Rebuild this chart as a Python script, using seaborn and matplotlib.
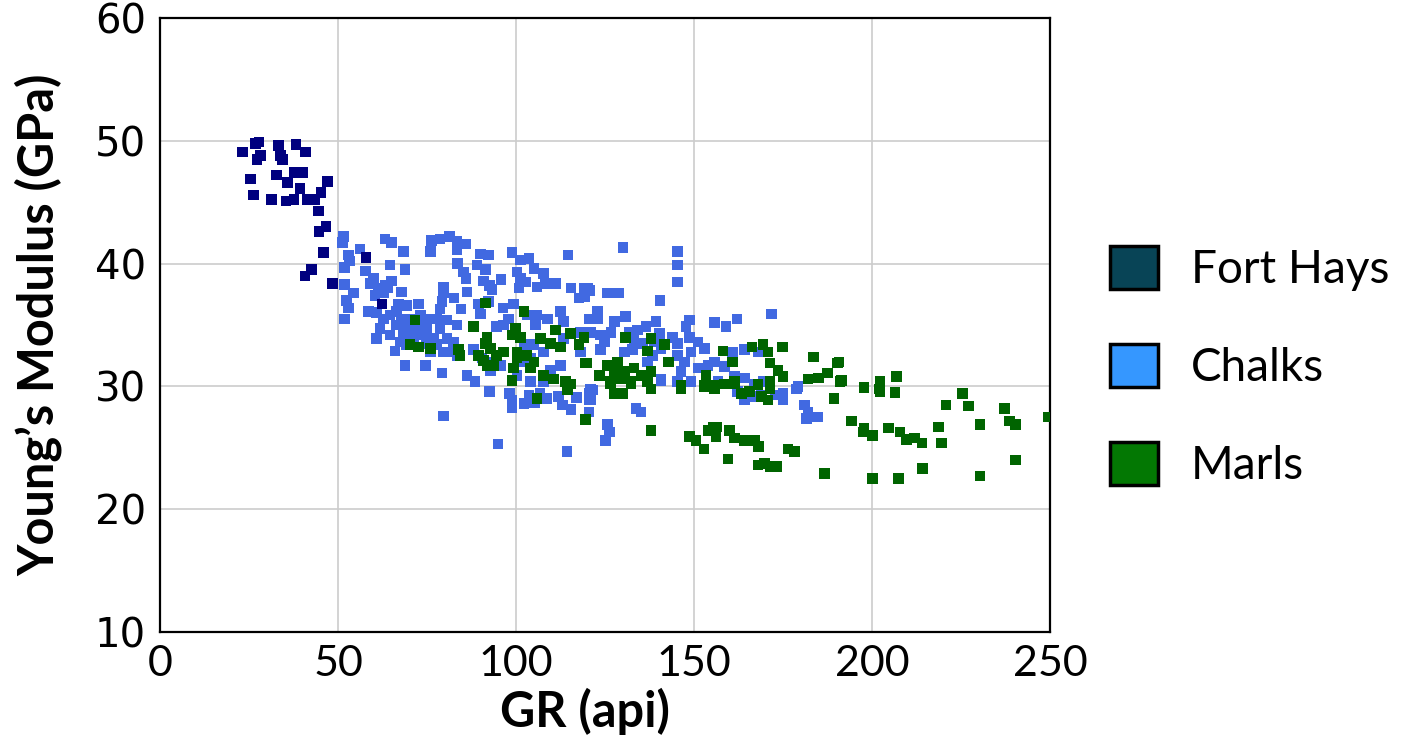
import matplotlib.pyplot as plt
import pandas as pd
import seaborn as sns
from matplotlib.patches import Patch

# Fort Hays limestone samples
fort_hays_gr = [27.8, 26.9, 23.2, 33.2, 38.2, 40.8, 28.2, 27.3, 33.9, 34.4,
                25.4, 32.7, 37.6, 40.2, 35.8, 47.1, 39.3, 45.2, 26.3, 31.3,
                35.4, 37.6, 41.4, 43.5, 44.5, 46.6, 44.7, 45.9, 42.6, 40.7,
                48.5, 57.9, 62.3]
fort_hays_ym = [49.9, 49.8, 49.1, 49.6, 49.7, 49.1, 48.8, 48.5, 48.8, 48.5,
                46.9, 47.2, 47.4, 47.4, 46.6, 46.7, 46.1, 45.8, 45.6, 45.2,
                45.1, 45.2, 45.2, 45.2, 44.3, 43.0, 42.6, 40.9, 39.5, 39.0,
                38.4, 40.5, 36.7]

# Chalk samples
chalk_gr = [
    51.5, 51.3, 63.2, 65.1, 68.4, 76.3, 78.7, 81.3, 83.4, 86.0,
    83.4, 75.9, 56.2, 52.9, 53.3, 51.9, 57.8, 64.6, 68.8, 83.6,
    90.0, 92.3, 98.9, 101.2, 103.6, 114.6, 89.0, 91.4, 85.3, 86.0,
    90.9, 92.6, 93.2, 95.8, 100.3, 101.2, 102.6, 100.8, 105.0, 107.8,
    105.9, 108.3, 111.1, 115.5, 119.1, 117.7, 59.9, 59.0, 63.2, 65.1,
    51.9, 54.3, 52.4, 52.9, 51.9, 61.3, 60.4, 62.7, 64.1, 67.9,
    58.5, 60.8, 67.0, 69.3, 72.6, 79.6, 79.6, 79.2, 78.7, 82.6,
    86.2, 84.5, 89.5, 90.0, 92.3, 96.3, 99.3, 97.9, 94.5, 96.5,
    103.1, 105.9, 105.4, 108.9, 112.5, 113.4,
    64.6, 67.9, 70.7, 74.9, 77.7, 80.6, 83.4, 61.8, 66.5, 69.3,
    72.1, 74.9, 78.7, 60.8, 64.6, 68.4, 71.2, 74.0, 76.8, 80.6,
    82.4, 67.4, 74.9, 77.7, 79.6, 75.9, 81.5, 83.4, 66.0, 68.8,
    74.5, 79.2, 86.2, 88.5, 88.1, 90.4, 92.8, 94.6, 95.6, 92.8,
    102.2, 105.0, 107.8, 104.0, 101.7, 100.3, 104.0, 107.8, 109.7, 113.4,
    112.5, 118.1, 120.5, 71.2, 73.1, 66.5, 62.7, 69.3,
    92.6, 98.2, 98.9, 98.9, 102.2, 103.6, 105.2, 106.7, 108.5, 112.0,
    113.0, 115.5, 117.0, 79.6, 95.0, 114.3, 120.5, 120.5, 120.5,
    130.1, 145.4, 145.4, 145.4, 120.1, 120.8, 119.3, 125.7, 128.8, 140.5,
    122.9, 121.5, 122.9, 127.6, 130.7, 139.3, 148.7, 147.8, 155.8, 159.0,
    162.1, 171.7, 118.2, 121.0, 123.8, 126.7, 124.8, 123.8,
    131.8, 134.2, 136.5, 140.3, 133.2, 135.6, 138.9, 140.7, 132.8, 130.4,
    144.0, 145.4, 148.7, 151.1, 152.9, 149.2,
    145.4, 147.3, 146.4, 151.1, 153.9, 155.8, 158.6, 160.9, 160.9, 164.2, 168.0,
    137.0, 138.4, 140.7, 149.2, 156.7, 161.4, 164.2, 167.0, 169.4, 179.2,
    118.2, 121.0,
    121.5, 121.0, 120.5, 133.7, 135.1, 125.7, 126.2, 125.2, 140.7, 145.4,
    162.3, 164.2, 167.0, 168.9, 172.7, 175.0, 175.0, 178.8, 181.1, 182.0,
    181.6, 184.7,
]
chalk_ym = [
    42.2, 41.7, 42.0, 41.7, 41.0, 41.9, 42.0, 42.2, 41.8, 41.6,
    41.1, 41.0, 41.2, 40.7, 40.2, 39.7, 39.4, 39.9, 39.5, 40.0,
    40.8, 40.7, 40.9, 40.3, 40.4, 40.7, 39.9, 39.5, 39.3, 38.8,
    38.6, 38.2, 37.9, 38.7, 39.3, 38.8, 38.5, 38.0, 39.6, 39.2,
    38.1, 38.4, 38.4, 38.0, 38.0, 37.2, 38.8, 38.4, 38.2, 38.6,
    38.3, 37.6, 37.0, 36.4, 35.5, 38.0, 37.4, 37.6, 38.0, 37.7,
    36.1, 36.0, 36.7, 36.6, 36.7, 38.1, 37.6, 36.9, 36.3, 37.2,
    37.7, 36.3, 36.7, 35.9, 36.9, 36.4, 36.7, 35.5, 34.9, 35.0,
    35.8, 35.8, 35.0, 35.5, 36.1, 35.3,
    35.8, 35.5, 35.5, 35.5, 35.5, 35.4, 35.0, 34.7, 35.0, 34.7,
    35.0, 34.7, 34.7, 33.9, 34.2, 34.2, 33.9, 34.2, 33.9, 33.9,
    33.6, 33.6, 33.5, 33.4, 32.8, 32.8, 32.8, 32.5, 32.9, 31.7,
    31.7, 31.1, 30.9, 30.4, 33.0, 32.3, 32.0, 32.3, 31.7, 31.3,
    33.4, 33.4, 32.8, 32.3, 32.0, 30.9, 30.4, 30.4, 31.3, 33.9,
    31.7, 32.8, 35.5, 34.7, 35.8, 36.1, 35.5, 33.4,
    29.6, 29.4, 28.9, 28.3, 28.6, 29.3, 28.7, 29.4, 29.0, 29.2,
    28.5, 28.1, 29.1, 27.6, 25.3, 24.7, 29.4, 28.9, 27.9,
    41.3, 41.0, 39.9, 38.5, 38.0, 37.8, 37.3, 37.6, 37.6, 37.0,
    36.1, 35.5, 35.5, 35.3, 35.7, 35.3, 35.4, 34.9, 35.2, 34.9,
    35.5, 35.9, 34.4, 34.4, 34.2, 34.4, 33.6, 33.0,
    34.4, 34.6, 34.9, 34.3, 33.9, 33.5, 33.6, 33.1, 33.0, 32.8,
    34.0, 33.5, 34.0, 33.6, 33.1, 32.8,
    32.5, 32.0, 31.2, 31.5, 31.7, 32.0, 31.6, 32.8, 32.1, 33.0, 32.8,
    32.0, 32.5, 30.6, 30.4, 30.4, 30.8, 30.7, 30.2, 30.4, 30.0,
    32.8, 29.8,
    29.7, 28.9, 27.9, 28.2, 27.9, 26.9, 26.3, 25.6, 30.5, 30.4,
    29.6, 28.9, 29.2, 29.3, 29.3, 29.4, 28.9, 29.8, 28.5, 27.9,
    27.4, 27.5,
]

# Marl samples
marl_gr = [
    91.4, 88.1, 102.2, 71.6, 70.2, 72.6, 75.9, 83.9, 84.3,
    91.8, 91.4, 92.8, 96.5, 94.6, 89.5, 90.9, 91.8, 93.7,
    99.8, 98.9, 101.2, 100.3, 100.3, 103.1, 105.0, 104.0, 99.3,
    106.9, 109.7, 112.5, 111.1, 115.3, 119.1, 117.7, 119.5,
    98.9, 107.8, 110.6, 113.9,
    105.9, 114.4, 115.3, 119.5,
    119.1, 119.9, 123.4, 130.7, 137.9, 137.0, 141.7, 142.8,
    125.7, 128.5, 127.6, 130.4, 133.2, 135.1, 137.9, 126.6, 132.3, 137.0, 129.5,
    146.4, 153.4, 152.9, 155.8, 158.6, 161.4, 168.0, 171.3,
    158.1, 160.9, 166.3, 169.4, 170.8, 174.8, 171.3, 173.6, 175.0,
    183.5, 190.3, 182.0, 184.9, 187.7, 191.0,
    127.6, 129.9, 146.4, 152.9, 155.8, 159.5, 161.4, 163.3, 165.6, 168.9,
    170.8, 171.3, 168.0,
    137.9, 148.7, 150.6, 152.8, 153.9, 155.3, 156.5, 156.2,
    160.0, 161.4, 164.0, 167.0, 168.2, 159.5, 168.0, 169.8, 171.5, 173.1,
    176.4, 178.3, 186.6, 189.3,
    126.6, 132.3, 137.0, 137.9,
    190.7, 187.5, 191.4, 197.8, 202.2, 202.0, 202.2, 206.9, 206.5,
    225.4, 220.8, 227.1, 237.2,
    194.3, 197.8, 197.5, 200.1, 204.6, 207.9, 209.7, 211.9, 214.0,
    218.7, 219.6, 230.4, 238.6, 240.3, 249.6,
    200.1, 207.4, 214.2, 230.4, 240.3,
]
marl_ym = [
    36.8, 34.9, 36.1, 35.4, 33.4, 33.2, 33.1, 33.0, 32.5,
    34.0, 33.5, 33.1, 32.8, 32.5, 32.5, 32.1, 31.7, 31.7,
    34.7, 34.2, 34.0, 32.8, 32.3, 32.5, 32.0, 31.5, 31.5,
    33.9, 33.5, 33.2, 34.6, 34.3, 34.0, 33.4, 31.9,
    30.5, 30.9, 30.6, 30.4,
    29.0, 29.7, 30.2, 27.3,
    34.0, 31.9, 30.9, 34.0, 33.9, 32.9, 33.4, 32.0,
    31.7, 32.0, 31.2, 31.2, 31.5, 30.9, 31.2, 30.4, 30.4, 30.4, 30.6,
    30.1, 30.9, 30.1, 30.1, 30.2, 30.4, 30.1, 30.4,
    32.9, 32.0, 33.2, 33.4, 32.8, 33.2, 31.9, 31.3, 30.8,
    32.4, 31.9, 30.6, 30.7, 31.1, 30.4,
    29.4, 29.4, 29.8, 30.0, 29.8, 30.2, 30.2, 29.4, 29.6, 29.2,
    28.9, 29.8, 30.2,
    26.4, 25.9, 25.6, 24.9, 26.4, 26.7, 26.7, 25.9,
    26.4, 25.8, 25.6, 25.6, 25.1, 24.1, 23.6, 23.7, 23.5, 23.5,
    24.9, 24.7, 22.9, 29.0,
    30.2, 30.2, 30.4, 29.8,
    32.0, 31.1, 30.5, 29.9, 30.4, 29.8, 29.6, 30.8, 29.5,
    29.4, 28.5, 28.4, 28.2,
    27.2, 26.6, 26.3, 26.0, 26.6, 26.3, 25.7, 25.8, 25.4,
    26.7, 25.4, 26.9, 27.2, 26.9, 27.5,
    22.5, 22.5, 23.3, 22.7, 24.0,
]

units = ["Fort Hays", "Chalks", "Marls"]
marker_colors = {"Fort Hays": "#00007f", "Chalks": "#4169e1", "Marls": "#006400"}
legend_colors = ["#084456", "#3597ff", "#037803"]

df = pd.concat([
    pd.DataFrame({"gr": chalk_gr, "ym": chalk_ym, "unit": "Chalks"}),
    pd.DataFrame({"gr": marl_gr, "ym": marl_ym, "unit": "Marls"}),
    pd.DataFrame({"gr": fort_hays_gr, "ym": fort_hays_ym, "unit": "Fort Hays"}),
], ignore_index=True)

sns.set_style("white")
plt.rcParams["font.family"] = ["Lato", "DejaVu Sans"]
plt.rcParams["text.color"] = "black"
plt.rcParams["axes.labelcolor"] = "black"
plt.rcParams["xtick.color"] = "black"
plt.rcParams["ytick.color"] = "black"

fig = plt.figure(figsize=(14.05, 7.38), dpi=100)
ax = fig.add_axes([0.1139, 0.1436, 0.6334, 0.832])

sns.scatterplot(data=df, x="gr", y="ym", hue="unit", palette=marker_colors,
                marker="s", s=58, linewidth=0, legend=False, ax=ax, zorder=3)

ax.set_xlim(0, 250)
ax.set_ylim(10, 60)
ax.set_xticks([0, 50, 100, 150, 200, 250])
ax.set_yticks([10, 20, 30, 40, 50, 60])
ax.grid(True, color="#cccccc", linewidth=1.2, zorder=0)
ax.set_axisbelow(True)
for spine in ax.spines.values():
    spine.set_color("black")
    spine.set_linewidth(1.6)
ax.tick_params(axis="y", length=0, pad=10, labelcolor="black")
ax.tick_params(axis="x", length=0, pad=9, labelcolor="black")

for lab in ax.get_yticklabels():
    lab.set_fontfamily("DejaVu Sans")
    lab.set_fontsize(29)
for lab in ax.get_xticklabels():
    lab.set_fontfamily(["Lato", "DejaVu Sans"])
    lab.set_fontsize(31)

ax.set_xlabel("GR (api)", fontsize=35, fontweight="bold", color="black")
ax.set_ylabel("Young\u2019s Modulus (GPa)", fontsize=35, fontweight="bold", color="black")
ax.xaxis.set_label_coords(0.478, -0.130)
ax.xaxis.label.set_va("center")
ax.yaxis.set_label_coords(-0.137, 0.5)
ax.yaxis.label.set_va("center")

handles = [Patch(facecolor=c, edgecolor="black", linewidth=2.5) for c in legend_colors]
leg = fig.legend(handles, units, loc="center left", bbox_to_anchor=(0.777, 0.503),
                 frameon=False, fontsize=33, handlelength=1.05, handleheight=1.05,
                 handletextpad=0.72, labelspacing=1.16, borderaxespad=0)
for txt in leg.get_texts():
    txt.set_color("black")

fig.savefig("out.png", dpi=100)
